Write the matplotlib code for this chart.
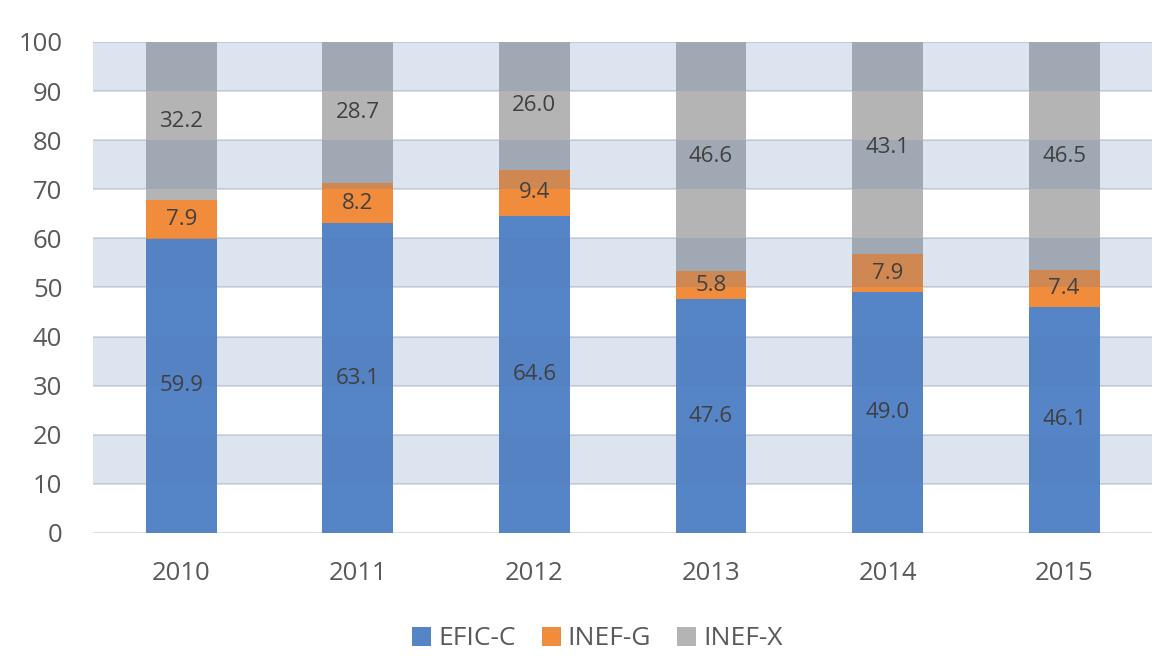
import matplotlib.pyplot as plt
import numpy as np

years = ["2010", "2011", "2012", "2013", "2014", "2015"]
efic_c = [59.9, 63.1, 64.6, 47.6, 49.0, 46.1]
inef_g = [7.9, 8.2, 9.4, 5.8, 7.9, 7.4]
inef_x = [32.2, 28.7, 26.0, 46.6, 43.1, 46.5]

series = [
    ("EFIC-C", efic_c, "#5585c6"),
    ("INEF-G", inef_g, "#f08c3c"),
    ("INEF-X", inef_x, "#b4b4b4"),
]

plt.rcParams["font.family"] = ["Open Sans", "DejaVu Sans"]

fig = plt.figure(figsize=(11.76, 6.56), dpi=100)
ax = fig.add_axes([0.079, 0.1875, 0.901, 0.7485])

x = np.arange(len(years))
bottom = np.zeros(len(years))
for name, vals, color in series:
    vals = np.array(vals)
    ax.bar(x, vals, width=0.40, bottom=bottom, color=color, label=name, zorder=2)
    for xi, b, v in zip(x, bottom, vals):
        ax.text(xi, b + v / 2, f"{v:.1f}", ha="center", va="center",
                fontsize=16, color="#404040", zorder=5)
    bottom += vals

# alternating translucent bands laid over the bars
for lo in (90, 70, 50, 30, 10):
    ax.axhspan(lo, lo + 10, facecolor="#5078b4", alpha=0.2, linewidth=0, zorder=3)

ax.set_xlim(-0.5, 5.5)
ax.set_ylim(0, 100)
ax.set_yticks(range(0, 101, 10))
ax.set_xticks(x)
ax.set_xticklabels(years)
ax.yaxis.grid(True, color="#d2d6dc", linewidth=1.2, zorder=1)
ax.set_axisbelow(True)
for s in ax.spines.values():
    s.set_visible(False)
ax.tick_params(length=0, labelsize=18.5, colors="#595959")
ax.tick_params(axis="x", pad=20)
ax.tick_params(axis="y", pad=22)

handles, labels = ax.get_legend_handles_labels()
fig.legend(handles, labels, loc="center", bbox_to_anchor=(0.508, 0.026), ncol=3,
           frameon=False, fontsize=19, labelcolor="#595959", handlelength=0.72,
           handleheight=0.72, handletextpad=0.25, columnspacing=1.0,
           borderpad=0.1)

fig.savefig("out.png", dpi=100)
